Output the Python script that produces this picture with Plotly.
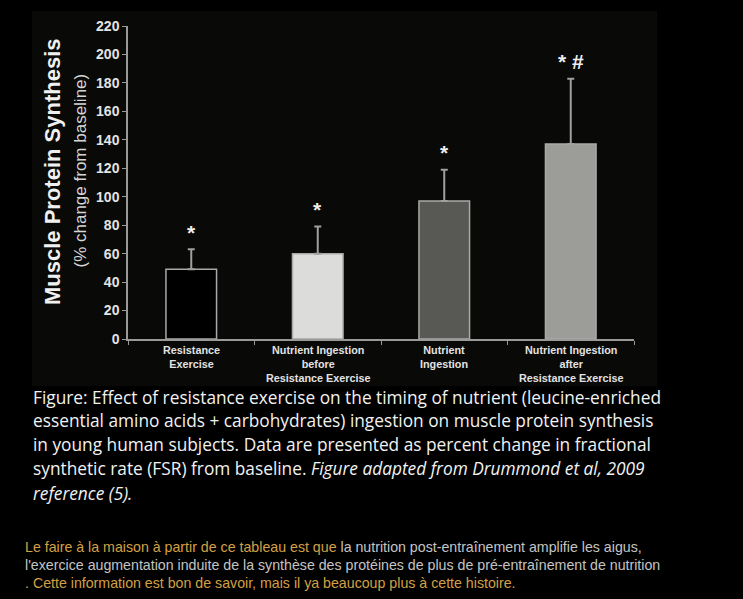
import plotly.graph_objects as go

# ---- data ----
categories = ["Resistance Exercise", "Nutrient Ingestion before Resistance Exercise",
              "Nutrient Ingestion", "Nutrient Ingestion after Resistance Exercise"]
category_labels = ["Resistance<br>Exercise",
                   "Nutrient Ingestion<br>before<br>Resistance Exercise",
                   "Nutrient<br>Ingestion",
                   "Nutrient Ingestion<br>after<br>Resistance Exercise"]
values = [49, 60, 97, 137]
errors = [14, 19, 22, 46]
marks = ["*", "*", "*", "* #"]
bar_colors = ["#000000", "#dcdcda", "#585854", "#9c9d98"]
y_ticks = list(range(0, 221, 20))

caption_lines = [
    "Figure: Effect of resistance exercise on the timing of nutrient (leucine-enriched",
    "essential amino acids + carbohydrates) ingestion on muscle protein synthesis",
    "in young human subjects. Data are presented as percent change in fractional",
    "synthetic rate (FSR) from baseline. <i>Figure adapted from Drummond et al, 2009</i>",
    "<i>reference (5).</i>",
]
caption_y = [397, 420, 444, 468, 493]
ORANGE = "#d3a044"
para_lines = [
    '<span style="color:%s">Le faire à la maison à partir de ce tableau est que</span> '
    'la nutrition post-entraînement amplifie les aigus,' % ORANGE,
    "l'exercice augmentation induite de la synthèse des protéines de plus de pré-entraînement de nutrition",
    '<span style="color:%s">. Cette information est bon de savoir, mais il ya beaucoup plus à cette histoire.</span>' % ORANGE,
]
para_y = [547, 565, 583]

W, H = 743, 599
L, R, T, B = 128, 634, 26, 339

def px(x):
    return (x - L) / (R - L)

def py(y):
    return (B - y) / (B - T)

SANS = "Liberation Sans, Arial, sans-serif"
CAP = "Open Sans, Liberation Sans, sans-serif"

fig = go.Figure()
fig.add_trace(go.Bar(
    x=categories, y=values, width=0.4,
    marker=dict(color=bar_colors, line=dict(color="#a9a9a9", width=1.5)),
    error_y=dict(type="data", symmetric=False, array=errors, arrayminus=[0] * len(errors),
                 color="#a0a0a0", thickness=2, width=3.5),
    hoverinfo="skip",
))

ann = []
for c, v, e, m in zip(categories, values, errors, marks):
    ann.append(dict(x=c, y=v + e, xref="x", yref="y", text=m, showarrow=False,
                    yanchor="middle", yshift=17,
                    font=dict(family=SANS, size=21, color="#eeeeee", weight="bold")))
for c, t in zip(categories, category_labels):
    ann.append(dict(x=c, y=0, xref="x", yref="y", text=t, showarrow=False,
                    yanchor="top", yshift=-3,
                    font=dict(family=SANS, size=10.8, color="#e2e2e2", weight="bold")))

ann.append(dict(x=px(53), y=py(172), xref="paper", yref="paper", text="Muscle Protein Synthesis",
                textangle=-90, showarrow=False, xanchor="center", yanchor="middle",
                font=dict(family=SANS, size=22, color="#f0f0f0", weight="bold")))
ann.append(dict(x=px(79.5), y=py(171), xref="paper", yref="paper", text="(% change from baseline)",
                textangle=-90, showarrow=False, xanchor="center", yanchor="middle",
                font=dict(family=SANS, size=17, color="#d6d6d6")))
for t, yy in zip(caption_lines, caption_y):
    ann.append(dict(x=px(31), y=py(yy), xref="paper", yref="paper", text=t,
                    showarrow=False, xanchor="left", yanchor="middle", align="left",
                    font=dict(family=CAP, size=17.3, color="#f2f2f2")))
for t, yy in zip(para_lines, para_y):
    ann.append(dict(x=px(23), y=py(yy), xref="paper", yref="paper", text=t,
                    showarrow=False, xanchor="left", yanchor="middle", align="left",
                    font=dict(family=SANS, size=14.2, color="#c4c4c4")))

fig.update_layout(
    width=W, height=H,
    margin=dict(l=L, r=W - R, t=T, b=H - B, pad=0),
    paper_bgcolor="#000000", plot_bgcolor="rgba(0,0,0,0)",
    showlegend=False, annotations=ann,
    shapes=[dict(type="rect", xref="paper", yref="paper", x0=px(32), x1=px(657),
                 y0=py(386), y1=py(11), fillcolor="#090907", line=dict(width=0), layer="below")],
    xaxis=dict(type="category", range=[-0.5, 3.5], showline=True, linecolor="#9a9a9a", linewidth=1.5,
               ticks="outside", tickson="boundaries", ticklen=4, tickcolor="#9a9a9a",
               showticklabels=False, showgrid=False, zeroline=False, fixedrange=True),
    yaxis=dict(range=[0, 220], tickvals=y_ticks, showline=True, linecolor="#9a9a9a", linewidth=1.5,
               ticks="outside", ticklen=4, tickcolor="#9a9a9a", showgrid=False, zeroline=False,
               fixedrange=True,
               tickfont=dict(family=SANS, size=14, color="#e4e4e4", weight="bold")),
)

fig.write_html("out.html", config={"displayModeBar": False},
               post_script="document.body.style.margin='0';document.body.style.background='#000';")
